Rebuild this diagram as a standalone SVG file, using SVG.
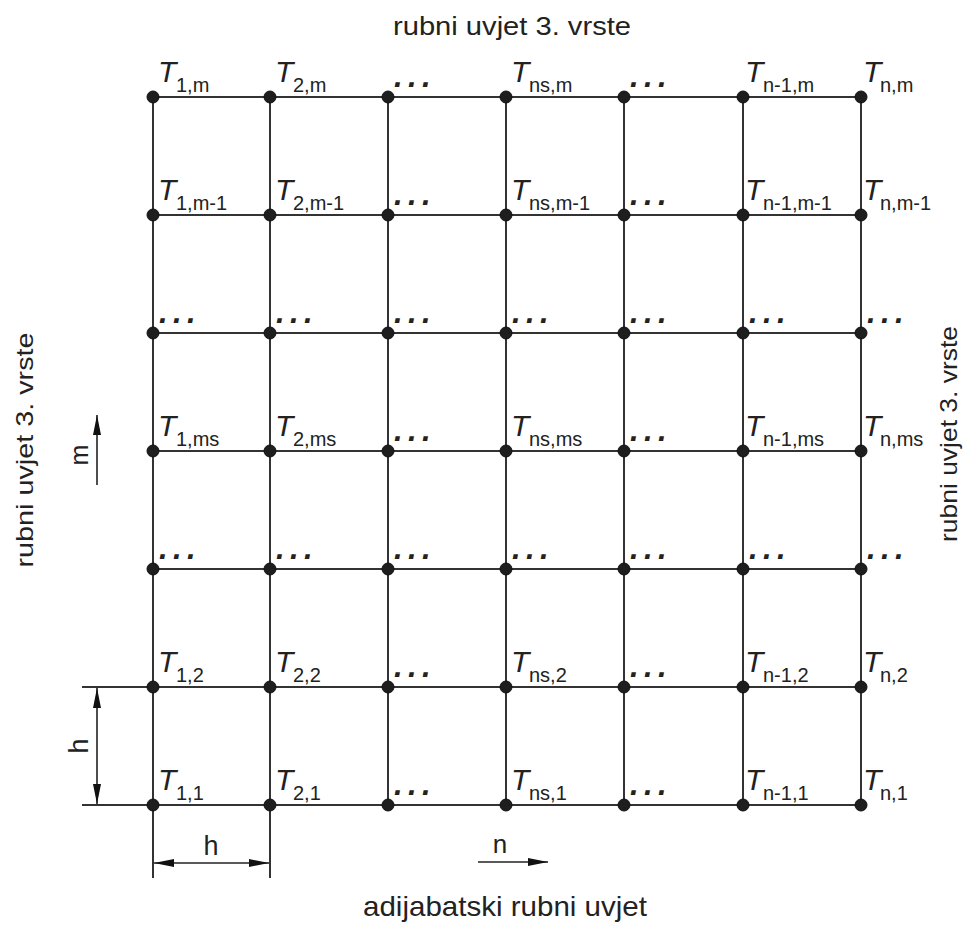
<svg xmlns="http://www.w3.org/2000/svg" width="968" height="928" viewBox="0 0 968 928">
<style>
text{font-family:"Liberation Sans",Arial,sans-serif;fill:#222}
.T{font-size:30px;font-style:italic}
.s{font-size:20px}
.d{font-size:31px;font-weight:bold;font-style:italic;letter-spacing:5.4px}
.lbl{font-size:25px}
.g{stroke:#333;stroke-width:2;fill:none}
.a{stroke:#222;stroke-width:1.6;fill:none}
circle{fill:#1e1e1e;stroke:#111;stroke-width:1}
</style>
<defs>
<marker id="ah" viewBox="0 0 20 8" refX="20" refY="4" markerWidth="20" markerHeight="8" markerUnits="userSpaceOnUse" orient="auto-start-reverse"><path d="M0,0 L20,4 L0,8 z" fill="#111"/></marker>
</defs>
<rect width="968" height="928" fill="#fff"/>
<g id="titles">
<text class="lbl" x="512" y="35" text-anchor="middle" textLength="238" lengthAdjust="spacingAndGlyphs">rubni uvjet 3. vrste</text>
<text class="lbl" x="505" y="916" text-anchor="middle" style="font-size:28px" textLength="284" lengthAdjust="spacingAndGlyphs">adijabatski rubni uvjet</text>
<text class="lbl" transform="translate(33,450) rotate(-90)" text-anchor="middle" style="font-size:24px" textLength="235" lengthAdjust="spacingAndGlyphs">rubni uvjet 3. vrste</text>
<text class="lbl" transform="translate(957,434) rotate(-90)" text-anchor="middle" style="font-size:24px" textLength="216" lengthAdjust="spacingAndGlyphs">rubni uvjet 3. vrste</text>
</g>
<g id="connectors">
<path class="g" d="M153,97V878 M270,97V878 M388,97V805 M506,97V805 M624,97V805 M743,97V805 M861,97V805"/>
<path class="g" d="M153,97H861 M153,215H861 M153,333H861 M153,451H861 M153,569H861 M82,687H861 M82,805H861"/>
</g>
<g id="nodes">
<g id="n_1_m"><circle cx="153" cy="97" r="6"/><text class="T" x="158" y="82">T</text><text class="s" x="176" y="92">1,m</text></g>
<g id="n_2_m"><circle cx="270" cy="97" r="6"/><text class="T" x="275" y="82">T</text><text class="s" x="293" y="92">2,m</text></g>
<g id="n_3_m"><circle cx="388" cy="97" r="6"/><text class="d" x="394" y="87">...</text></g>
<g id="n_ns_m"><circle cx="506" cy="97" r="6"/><text class="T" x="511" y="82">T</text><text class="s" x="529" y="92">ns,m</text></g>
<g id="n_5_m"><circle cx="624" cy="97" r="6"/><text class="d" x="630" y="87">...</text></g>
<g id="n_n1_m"><circle cx="743" cy="97" r="6"/><text class="T" x="745" y="82">T</text><text class="s" x="763" y="92">n-1,m</text></g>
<g id="n_n_m"><circle cx="861" cy="97" r="6"/><text class="T" x="863" y="82">T</text><text class="s" x="880" y="92">n,m</text></g>

<g id="n_1_m1"><circle cx="153" cy="215" r="6"/><text class="T" x="158" y="200">T</text><text class="s" x="176" y="210">1,m-1</text></g>
<g id="n_2_m1"><circle cx="270" cy="215" r="6"/><text class="T" x="275" y="200">T</text><text class="s" x="293" y="210">2,m-1</text></g>
<g id="n_3_m1"><circle cx="388" cy="215" r="6"/><text class="d" x="394" y="205">...</text></g>
<g id="n_ns_m1"><circle cx="506" cy="215" r="6"/><text class="T" x="511" y="200">T</text><text class="s" x="529" y="210">ns,m-1</text></g>
<g id="n_5_m1"><circle cx="624" cy="215" r="6"/><text class="d" x="630" y="205">...</text></g>
<g id="n_n1_m1"><circle cx="743" cy="215" r="6"/><text class="T" x="745" y="200">T</text><text class="s" x="763" y="210">n-1,m-1</text></g>
<g id="n_n_m1"><circle cx="861" cy="215" r="6"/><text class="T" x="863" y="200">T</text><text class="s" x="880" y="210">n,m-1</text></g>

<g id="n_1_r3"><circle cx="153" cy="333" r="6"/><text class="d" x="159" y="323">...</text></g>
<g id="n_2_r3"><circle cx="270" cy="333" r="6"/><text class="d" x="276" y="323">...</text></g>
<g id="n_3_r3"><circle cx="388" cy="333" r="6"/><text class="d" x="394" y="323">...</text></g>
<g id="n_ns_r3"><circle cx="506" cy="333" r="6"/><text class="d" x="512" y="323">...</text></g>
<g id="n_5_r3"><circle cx="624" cy="333" r="6"/><text class="d" x="630" y="323">...</text></g>
<g id="n_n1_r3"><circle cx="743" cy="333" r="6"/><text class="d" x="749" y="323">...</text></g>
<g id="n_n_r3"><circle cx="861" cy="333" r="6"/><text class="d" x="867" y="323">...</text></g>

<g id="n_1_ms"><circle cx="153" cy="451" r="6"/><text class="T" x="158" y="436">T</text><text class="s" x="176" y="446">1,ms</text></g>
<g id="n_2_ms"><circle cx="270" cy="451" r="6"/><text class="T" x="275" y="436">T</text><text class="s" x="293" y="446">2,ms</text></g>
<g id="n_3_ms"><circle cx="388" cy="451" r="6"/><text class="d" x="394" y="441">...</text></g>
<g id="n_ns_ms"><circle cx="506" cy="451" r="6"/><text class="T" x="511" y="436">T</text><text class="s" x="529" y="446">ns,ms</text></g>
<g id="n_5_ms"><circle cx="624" cy="451" r="6"/><text class="d" x="630" y="441">...</text></g>
<g id="n_n1_ms"><circle cx="743" cy="451" r="6"/><text class="T" x="745" y="436">T</text><text class="s" x="763" y="446">n-1,ms</text></g>
<g id="n_n_ms"><circle cx="861" cy="451" r="6"/><text class="T" x="863" y="436">T</text><text class="s" x="880" y="446">n,ms</text></g>

<g id="n_1_r5"><circle cx="153" cy="569" r="6"/><text class="d" x="159" y="559">...</text></g>
<g id="n_2_r5"><circle cx="270" cy="569" r="6"/><text class="d" x="276" y="559">...</text></g>
<g id="n_3_r5"><circle cx="388" cy="569" r="6"/><text class="d" x="394" y="559">...</text></g>
<g id="n_ns_r5"><circle cx="506" cy="569" r="6"/><text class="d" x="512" y="559">...</text></g>
<g id="n_5_r5"><circle cx="624" cy="569" r="6"/><text class="d" x="630" y="559">...</text></g>
<g id="n_n1_r5"><circle cx="743" cy="569" r="6"/><text class="d" x="749" y="559">...</text></g>
<g id="n_n_r5"><circle cx="861" cy="569" r="6"/><text class="d" x="867" y="559">...</text></g>

<g id="n_1_2"><circle cx="153" cy="687" r="6"/><text class="T" x="158" y="672">T</text><text class="s" x="176" y="682">1,2</text></g>
<g id="n_2_2"><circle cx="270" cy="687" r="6"/><text class="T" x="275" y="672">T</text><text class="s" x="293" y="682">2,2</text></g>
<g id="n_3_2"><circle cx="388" cy="687" r="6"/><text class="d" x="394" y="677">...</text></g>
<g id="n_ns_2"><circle cx="506" cy="687" r="6"/><text class="T" x="511" y="672">T</text><text class="s" x="529" y="682">ns,2</text></g>
<g id="n_5_2"><circle cx="624" cy="687" r="6"/><text class="d" x="630" y="677">...</text></g>
<g id="n_n1_2"><circle cx="743" cy="687" r="6"/><text class="T" x="745" y="672">T</text><text class="s" x="763" y="682">n-1,2</text></g>
<g id="n_n_2"><circle cx="861" cy="687" r="6"/><text class="T" x="863" y="672">T</text><text class="s" x="880" y="682">n,2</text></g>

<g id="n_1_1"><circle cx="153" cy="805" r="6"/><text class="T" x="158" y="790">T</text><text class="s" x="176" y="800">1,1</text></g>
<g id="n_2_1"><circle cx="270" cy="805" r="6"/><text class="T" x="275" y="790">T</text><text class="s" x="293" y="800">2,1</text></g>
<g id="n_3_1"><circle cx="388" cy="805" r="6"/><text class="d" x="394" y="795">...</text></g>
<g id="n_ns_1"><circle cx="506" cy="805" r="6"/><text class="T" x="511" y="790">T</text><text class="s" x="529" y="800">ns,1</text></g>
<g id="n_5_1"><circle cx="624" cy="805" r="6"/><text class="d" x="630" y="795">...</text></g>
<g id="n_n1_1"><circle cx="743" cy="805" r="6"/><text class="T" x="745" y="790">T</text><text class="s" x="763" y="800">n-1,1</text></g>
<g id="n_n_1"><circle cx="861" cy="805" r="6"/><text class="T" x="863" y="790">T</text><text class="s" x="880" y="800">n,1</text></g>
</g>
<g id="dimensions">
<line class="a" x1="97" y1="485" x2="97" y2="415" marker-end="url(#ah)"/>
<text class="lbl" transform="translate(88,455) rotate(-90)" text-anchor="middle" style="font-size:25px">m</text>
<line class="a" x1="97" y1="688" x2="97" y2="804" marker-start="url(#ah)" marker-end="url(#ah)"/>
<text class="lbl" transform="translate(88,746) rotate(-90)" text-anchor="middle" style="font-size:27px">h</text>
<line class="a" x1="154" y1="863" x2="269" y2="863" marker-start="url(#ah)" marker-end="url(#ah)"/>
<text class="lbl" x="211" y="855" text-anchor="middle" style="font-size:27px">h</text>
<line class="a" x1="478" y1="862" x2="548" y2="862" marker-end="url(#ah)"/>
<text class="lbl" x="500" y="853" text-anchor="middle" style="font-size:26px">n</text>
</g>
</svg>
